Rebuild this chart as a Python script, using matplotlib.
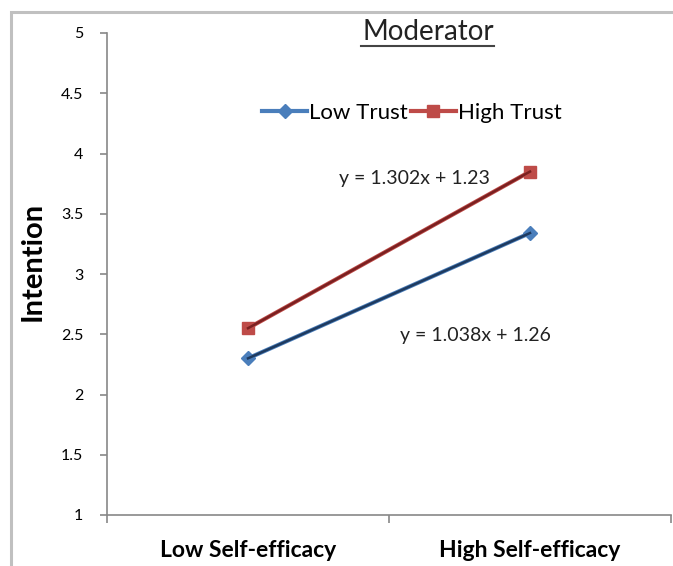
import matplotlib
matplotlib.use("Agg")
import matplotlib.pyplot as plt
from matplotlib.lines import Line2D
from matplotlib.patches import Rectangle

categories = ["Low Self-efficacy", "High Self-efficacy"]
low_trust = [2.30, 3.34]
high_trust = [2.55, 3.85]
series_names = ["Low Trust", "High Trust"]
eq_low = "y = 1.038x + 1.26"
eq_high = "y = 1.302x + 1.23"
yticks = [1, 1.5, 2, 2.5, 3, 3.5, 4, 4.5, 5]
ytick_labels = ["1", "1.5", "2", "2.5", "3", "3.5", "4", "4.5", "5"]

plt.rcParams['font.family'] = ['Lato', 'DejaVu Sans']

fig = plt.figure(figsize=(6.73, 5.66), dpi=100)
W, H = 673, 566

# outer chart border (cropped at right/bottom)
fig.patches.append(Rectangle((11 / W, -0.1), 1.2, (H - 12) / H + 0.1,
                             transform=fig.transFigure, fill=False,
                             edgecolor="#c0c0c0", linewidth=2.2, zorder=0))

ax = fig.add_axes([107 / W, (H - 515) / H, (671 - 107) / W, (515 - 33) / H])
ax.set_facecolor("none")

x = list(range(len(categories)))
blue = "#4A7EBB"
red = "#BE4B48"
blue_dark = "#1E3A5F"
red_dark = "#7A2020"

ax.plot(x, low_trust, color=blue, lw=3, marker="D", markersize=7.5,
        markerfacecolor=blue, markeredgecolor=blue, label=series_names[0], zorder=3)
ax.plot(x, high_trust, color=red, lw=3, marker="s", markersize=8,
        markerfacecolor=red, markeredgecolor=red, label=series_names[1], zorder=3)
# trendlines
ax.plot(x, low_trust, color=blue_dark, lw=1.8, zorder=4)
ax.plot(x, high_trust, color=red_dark, lw=1.8, zorder=4)

ax.set_xlim(-0.5, 1.5)
ax.set_ylim(1, 5)
ax.set_yticks(yticks)
ax.set_yticklabels(ytick_labels, fontsize=11.5)
ax.set_xticks([-0.5, 0.5, 1.5])
ax.set_xticklabels(["", "", ""])
ax.set_xticks(x, minor=True)
ax.set_xticklabels(categories, minor=True, fontsize=16.5, fontweight="bold")
ax.tick_params(axis="x", which="minor", length=0, pad=18)
ax.tick_params(axis="x", which="major", length=6, color="#888888", width=1.2)
ax.tick_params(axis="y", length=5, color="#888888", width=1.2, pad=12)

for s in ["top", "right"]:
    ax.spines[s].set_visible(False)
for s in ["left", "bottom"]:
    ax.spines[s].set_color("#888888")
    ax.spines[s].set_linewidth(1.2)

ax.set_ylabel("Intention", fontsize=21, fontweight="bold")
ax.yaxis.set_label_coords((46 - 107) / 564, (515 - 261) / 482)

ax.text(0.589, 3.79, eq_high, fontsize=14, ha="center", va="center", color="#222222")
ax.text(0.808, 2.49, eq_low, fontsize=14, ha="center", va="center", color="#222222")

leg = ax.legend(loc="center", bbox_to_anchor=((412 - 107) / 564, (515 - 113) / 482),
                ncol=2, frameon=False, fontsize=16, handlelength=2.0,
                columnspacing=0.15, handletextpad=0.1)

# title with underline
tx = 428 / W
ty = 1 - 32 / H
fig.text(tx, ty, "Moderator", fontsize=20, ha="center", va="center", color="#222222")
fig.add_artist(Line2D([361 / W, 494 / W], [1 - 46 / H, 1 - 46 / H],
                      transform=fig.transFigure, color="#444444", lw=1.5))

fig.savefig("out.png", dpi=100)
